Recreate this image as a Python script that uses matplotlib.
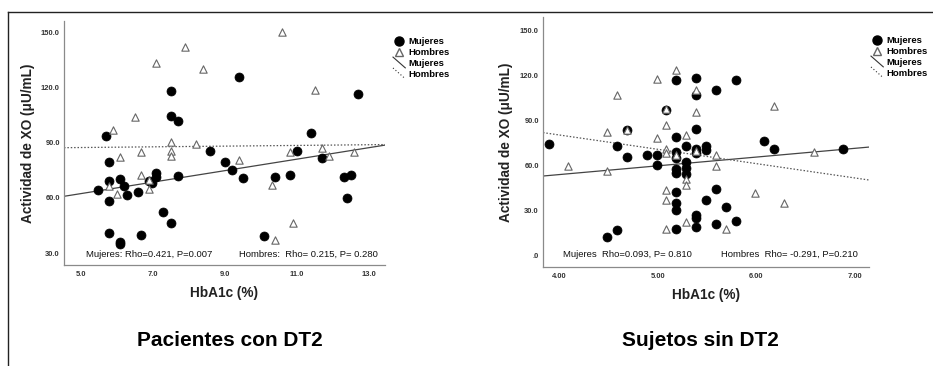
import numpy as np
import matplotlib
matplotlib.use("Agg")
import matplotlib.pyplot as plt
from matplotlib.lines import Line2D
from matplotlib.legend_handler import HandlerBase

plt.rcParams['font.family'] = ['Liberation Sans', 'DejaVu Sans']

# ---------------- data: Pacientes con DT2 ----------------
dt2_muj_x = [5.69, 5.48, 5.79, 5.79, 5.79, 5.79, 6.09, 6.19, 6.29, 6.09, 6.09, 6.59, 6.68,
             6.89, 6.98, 7.09, 7.09, 7.28, 7.49, 7.49, 7.69, 7.69, 7.49, 8.59, 8.99, 9.19,
             9.38, 9.49, 10.09, 10.39, 10.79, 11.0, 11.39, 11.69, 12.29, 12.49, 12.39, 12.69]
dt2_muj_y = [93.3, 64.4, 79.6, 69.1, 58.2, 41.0, 70.0, 66.2, 61.7, 36.2, 35.1, 63.0, 39.8,
             68.9, 68.0, 73.6, 71.3, 52.4, 118.1, 104.6, 101.9, 72.0, 46.3, 85.4, 79.6, 75.1,
             125.6, 70.5, 39.4, 71.1, 72.2, 85.6, 95.0, 81.4, 71.1, 72.4, 59.9, 116.3]
dt2_hom_x = [5.89, 5.79, 5.99, 6.09, 6.49, 6.68, 6.68, 6.89, 6.89, 7.09, 7.49, 7.49, 7.49,
             7.89, 8.19, 8.39, 9.38, 10.29, 10.39, 10.59, 10.79, 10.89, 11.49, 11.69, 11.89, 12.59]
dt2_hom_y = [96.6, 66.6, 62.2, 82.3, 103.7, 84.8, 72.5, 69.6, 64.8, 133.2, 90.1, 85.6, 82.7,
             141.7, 89.0, 130.1, 80.3, 66.9, 36.9, 150.2, 84.8, 46.3, 118.7, 87.0, 82.9, 84.8]
# fit lines (intercept, slope)
dt2_fit_muj = (46.67, 3.12)
dt2_fit_hom = (86.34, 0.19)
dt2_xticks = [5.0, 7.0, 9.0, 11.0, 13.0]
dt2_yticks = [30.0, 60.0, 90.0, 120.0, 150.0]
dt2_stats_muj = "Mujeres: Rho=0.421, P=0.007"
dt2_stats_hom = "Hombres:  Rho= 0.215, P= 0.280"

# ---------------- data: Sujetos sin DT2 ----------------
sin_muj_x = [3.90, 4.49, 4.59, 4.59, 4.69, 4.69, 4.89, 4.99, 4.99, 5.09, 5.19, 5.19, 5.19,
             5.19, 5.19, 5.19, 5.19, 5.19, 5.19, 5.19, 5.29, 5.29, 5.29, 5.29, 5.39, 5.39,
             5.39, 5.39, 5.39, 5.39, 5.39, 5.39, 5.49, 5.49, 5.49, 5.59, 5.59, 5.59, 5.69,
             5.79, 5.79, 6.08, 6.18, 6.88]
sin_muj_y = [74.2, 11.8, 16.9, 72.9, 83.1, 65.3, 66.9, 66.9, 60.2, 96.4, 116.7, 78.4, 68.4,
             64.7, 57.1, 54.4, 42.2, 34.7, 30.2, 17.1, 72.4, 61.8, 57.8, 54.0, 118.0, 106.7,
             84.0, 70.7, 68.0, 26.7, 24.4, 18.4, 72.4, 70.2, 36.7, 109.8, 44.0, 20.9, 31.8,
             116.7, 22.7, 76.0, 70.4, 70.4]
sin_hom_x = [4.09, 4.49, 4.49, 4.59, 4.69, 4.99, 4.99, 5.09, 5.09, 5.09, 5.09, 5.09, 5.09,
             5.09, 5.19, 5.19, 5.29, 5.29, 5.29, 5.29, 5.39, 5.39, 5.39, 5.59, 5.59, 5.69,
             5.99, 6.18, 6.28, 6.58]
sin_hom_y = [59.3, 82.2, 56.2, 106.4, 83.6, 117.3, 78.0, 97.3, 86.4, 70.9, 68.2, 43.3, 36.4,
             17.1, 123.1, 66.7, 79.8, 50.7, 46.7, 22.0, 110.0, 95.6, 69.6, 66.7, 59.1, 17.3,
             41.6, 99.1, 34.4, 68.4]
sin_fit_muj = (30.2, 5.85)
sin_fit_hom = (118.4, -9.58)
sin_xticks = [4.0, 5.0, 6.0, 7.0]
sin_yticks = [0.0, 30.0, 60.0, 90.0, 120.0, 150.0]
sin_ytick_labels = [".0", "30.0", "60.0", "90.0", "120.0", "150.0"]
sin_stats_muj = "Mujeres  Rho=0.093, P= 0.810"
sin_stats_hom = "Hombres  Rho= -0.291, P=0.210"

legend_labels = ["Mujeres", "Hombres", "Mujeres", "Hombres"]
ylabel = "Actividad de XO (μU/mL)"
xlabel = "HbA1c (%)"
titles = ["Pacientes con DT2", "Sujetos sin DT2"]

W, H = 933, 366
fig = plt.figure(figsize=(W / 100, H / 100), dpi=100)
fig.patch.set_facecolor("white")


def fx(px):
    return px / W


def fy(py):
    return 1 - py / H


# frame lines
fig.add_artist(Line2D([fx(8), 1.0], [fy(12), fy(12)], color="#222222", lw=1.0))
fig.add_artist(Line2D([fx(8), fx(8)], [0.0, fy(12)], color="#222222", lw=1.0))


class DiagHandler(HandlerBase):
    def __init__(self, ls):
        super().__init__()
        self.ls = ls

    def create_artists(self, legend, orig_handle, xdescent, ydescent, width, height, fontsize, trans):
        l = Line2D([-xdescent, -xdescent + width], [height + 1.5, -1.5],
                   color="#333333", lw=0.8, linestyle=self.ls, transform=trans)
        return [l]


def panel(rect, mx, my, hx, hy, fit_m, fit_h, xlim, ylim, xticks, yticks, ytl, xtfmt,
          s_m, s_h, s_pos, leg_pos, ylab_x, xlab_y, title, title_x):
    ax = fig.add_axes(rect)
    ax.set_xlim(*xlim)
    ax.set_ylim(*ylim)
    for sp in ["top", "right"]:
        ax.spines[sp].set_visible(False)
    for sp in ["left", "bottom"]:
        ax.spines[sp].set_color("#8a8a8a")
        ax.spines[sp].set_linewidth(0.9)
    ax.set_xticks(xticks)
    ax.set_xticklabels([xtfmt.format(v) for v in xticks])
    ax.set_yticks(yticks)
    ax.set_yticklabels(ytl)
    ax.tick_params(axis="y", length=0, labelsize=5.4, pad=3)
    ax.tick_params(axis="x", length=0, labelsize=5.4, pad=4)
    for t in ax.get_xticklabels() + ax.get_yticklabels():
        t.set_fontweight("bold")
        t.set_color("#333333")
    xs = np.array(xlim)
    ax.plot(xs, fit_m[0] + fit_m[1] * xs, color="#444444", lw=0.9, zorder=2)
    ax.plot(xs, fit_h[0] + fit_h[1] * xs, color="#555555", lw=0.9, ls=(0, (1.2, 1.5)), zorder=2)
    ax.scatter(mx, my, s=42, c="black", edgecolors="black", linewidths=0.5, zorder=3, clip_on=False)
    ax.scatter(hx, hy, s=28, marker="^", facecolors="white", edgecolors="#666666",
               linewidths=0.8, zorder=4, clip_on=False)
    ax.text(s_pos[0], s_pos[2], s_m, transform=ax.transAxes, fontsize=6.8, color="#111111",
            ha="left", va="center")
    ax.text(s_pos[1], s_pos[2], s_h, transform=ax.transAxes, fontsize=6.8, color="#111111",
            ha="left", va="center")
    fig.text(ylab_x, rect[1] + rect[3] / 2, ylabel, rotation=90, ha="center", va="center",
             fontsize=9.8, fontweight="bold", color="#222222")
    fig.text(rect[0] + rect[2] / 2, xlab_y, xlabel, ha="center", va="center",
             fontsize=9.8, fontweight="bold", color="#222222")
    fig.text(title_x, fy(341), title, ha="center", va="center", fontsize=15,
             fontweight="bold", color="black")
    h1 = Line2D([], [], marker="o", ls="", color="black", markersize=6.5)
    h2 = Line2D([], [], marker="^", ls="", markerfacecolor="white",
                markeredgecolor="#666666", markersize=5.5)
    h3 = Line2D([], [], color="#333333")
    h4 = Line2D([], [], color="#333333", ls=":")
    fig.legend([h1, h2, h3, h4], legend_labels, loc="upper left",
               bbox_to_anchor=leg_pos, frameon=False,
               prop={"size": 6.8, "weight": "bold"},
               handlelength=1.3, handletextpad=0.3, labelspacing=0.2,
               borderaxespad=0, borderpad=0,
               handler_map={h3: DiagHandler("-"), h4: DiagHandler((0, (1, 2)))})
    return ax


panel([fx(64), fy(265), fx(385) - fx(64), fy(21) - fy(265)],
      dt2_muj_x, dt2_muj_y, dt2_hom_x, dt2_hom_y, dt2_fit_muj, dt2_fit_hom,
      (4.53, 13.44), (23.5, 156.0), dt2_xticks, dt2_yticks,
      ["{:.1f}".format(v) for v in dt2_yticks], "{:.1f}",
      dt2_stats_muj, dt2_stats_hom, (0.07, 0.545, 0.045),
      (fx(393), fy(37)), fx(28), fy(293), titles[0], fx(230))

panel([fx(543), fy(267), fx(869) - fx(543), fy(17) - fy(267)],
      sin_muj_x, sin_muj_y, sin_hom_x, sin_hom_y, sin_fit_muj, sin_fit_hom,
      (3.84, 7.14), (-8.0, 158.7), sin_xticks, sin_yticks,
      sin_ytick_labels, "{:.2f}",
      sin_stats_muj, sin_stats_hom, (0.06, 0.545, 0.05),
      (fx(871), fy(36)), fx(506), fy(295), titles[1], fx(700))

fig.savefig("out.png", dpi=100, facecolor="white")
